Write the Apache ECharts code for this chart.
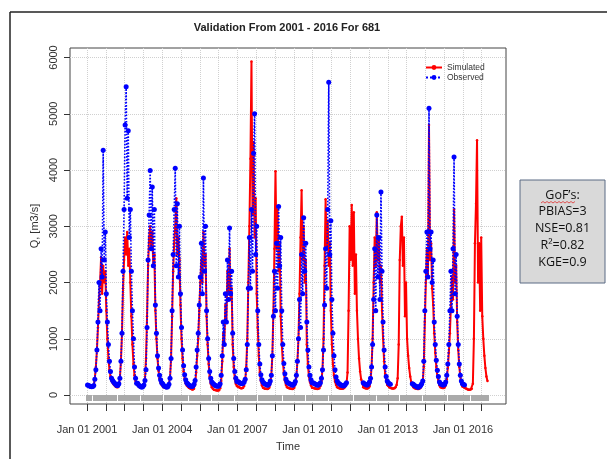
<!DOCTYPE html>
<html><head><meta charset="utf-8">
<script src="https://cdn.jsdelivr.net/npm/echarts@6/dist/echarts.min.js"></script>
<style>html,body{margin:0;padding:0;background:#fff}#c{width:607px;height:459px}</style>
</head><body><div id="c"></div>
<script>
// ---- data, 24 samples per year, 2001..2016 ----
const startYear = 2001;
const samplesPerYear = 24;
const observed = [
 180,170,160,150,145,150,170,280,450,800,1300,2000,1500,2600,2100,4350,2400,2900,1800,1300,900,600,420,300,
 260,230,210,190,170,170,200,300,600,1100,2200,3300,4800,5480,3500,4700,2800,3300,2200,1500,1000,500,300,210,
 210,180,160,150,140,150,180,260,450,1200,2400,3200,3990,2600,3700,2300,3300,1600,1100,700,480,350,270,220,
 200,170,155,145,140,150,190,300,650,1500,2500,3300,4030,2300,3400,2100,3000,1800,1200,800,520,360,270,220,
 200,180,165,155,150,160,190,260,500,800,1100,1600,2100,2700,1800,3860,2200,3000,1500,1000,650,420,300,230,
 210,190,175,165,155,155,165,200,350,700,1300,900,1800,1300,2400,1700,2970,1800,2200,1100,650,420,300,240,
 240,225,215,205,200,210,230,280,450,900,1900,2800,1900,3300,2200,4300,5000,2500,3000,1500,900,550,360,270,
 230,210,195,185,175,180,200,250,350,700,1400,2200,1500,2700,1900,3350,2300,2800,1500,900,560,380,280,230,
 220,205,195,185,175,180,200,240,350,600,1000,1700,1200,2500,1800,3150,2200,2700,1300,800,500,350,270,220,
 220,205,195,185,175,180,190,220,300,450,800,1600,2600,1900,3300,5560,2500,3100,1700,1100,700,450,320,250,
 220,200,185,175,165,160,170,190,220,null,null,null,null,null,null,null,null,null,null,null,null,null,null,null,
 220,200,190,180,180,200,230,300,500,900,1700,2600,1500,3200,2100,2800,1700,3610,2200,1300,800,500,330,250,
 220,200,190,null,null,null,null,null,null,null,null,null,null,null,null,null,null,null,null,null,null,null,null,200,
 190,170,160,150,140,140,150,170,200,250,600,1500,2200,2900,2100,5100,2600,2900,2000,2400,1300,900,620,440,
 330,230,200,190,180,180,190,230,350,550,900,1500,2200,1500,2600,4230,1800,2500,1400,900,550,350,250,200,
 190,180,null,null,null,null,null,null,null,null,null,null,null,null,null,null,null,null,null,null,null,null,null,null
];
const simulated = [
 170,160,150,140,135,140,160,300,500,800,1200,1700,2000,2450,1800,2300,2000,2200,1500,1000,650,450,330,250,
 220,190,170,150,140,140,180,300,600,1100,1900,2400,2800,2500,2900,2300,2600,2000,1400,900,550,350,250,190,
 180,150,140,130,130,140,170,280,650,1400,2300,2800,3000,2600,2900,2300,2500,1500,1000,650,430,300,220,180,
 160,140,130,125,125,135,170,300,650,1400,2200,2700,3000,3500,2500,2800,2400,1600,1000,650,420,290,210,170,
 150,130,120,110,100,100,110,180,400,700,1000,1500,2000,2400,2000,2900,2300,2500,1400,900,550,330,200,140,
 110,95,90,85,80,80,85,120,250,600,1100,900,1600,1300,2200,1800,2600,1700,1900,900,500,300,200,160,
 150,140,130,120,120,130,160,250,500,1000,2000,3000,4200,5930,3200,4500,2800,3500,1800,1200,700,400,250,170,
 130,120,110,110,105,110,130,200,350,700,1500,2600,3980,2600,3300,2200,2700,1400,900,600,400,260,180,140,
 130,120,115,110,105,110,130,190,320,600,1000,1800,2800,3640,2400,3000,2000,2400,900,550,330,230,170,130,
 130,120,115,110,105,110,120,160,250,450,1000,2300,3480,2600,3100,2300,2700,1500,900,550,350,240,180,140,
 130,120,115,110,110,115,130,160,200,400,1500,3000,2400,3380,2300,3250,1800,2500,1500,1000,650,420,280,220,
 140,130,120,115,115,125,150,250,500,1000,2000,2800,2300,3250,2400,2800,2000,2300,1500,1000,600,380,250,180,
 160,140,130,120,115,115,120,140,180,300,900,2400,3000,3170,2300,2800,1400,2000,1000,700,480,330,230,170,
 140,125,115,110,105,105,115,130,170,230,500,1300,2000,2600,2100,4800,2400,2700,1900,1600,1100,750,500,330,
 250,170,140,130,125,125,135,170,280,480,750,1100,1600,2100,1700,3300,2000,2300,1300,800,500,320,200,150,
 150,130,120,110,100,95,95,100,110,200,1000,2700,3400,4530,2000,2700,1500,2800,1400,1000,700,480,330,250
];
const yTicks = [0, 1000, 2000, 3000, 4000, 5000, 6000];
const xLabelYears = [2001, 2004, 2007, 2010, 2013, 2016];
const seriesNames = ['Simulated', 'Observed'];
const gofLines = ['GoF\u2019s:', 'PBIAS=3', 'NSE=0.81', 'R\u00b2=0.82', 'KGE=0.9'];
const titleText = 'Validation From 2001 - 2016 For 681';

// ---- derived ----
const xMajorTicks = [];
for (let k = 0; k <= 21; k++) xMajorTicks.push(startYear + k * 0.75);
const xMonthTicks = [];
for (let m = 0; m <= 192; m++) xMonthTicks.push(startYear + m / 12);
function toPairs(arr) {
  return arr.map((v, i) => [startYear + Math.floor(i / samplesPerYear) + ((i % samplesPerYear) + 0.5) / samplesPerYear, v]);
}

const FONT = 'Liberation Sans, Arial, sans-serif';
const xMin = 2000.3217, xMax = 2017.7182;
const chart = echarts.init(document.getElementById('c'), null, {renderer: 'canvas'});
chart.setOption({
  animation: false,
  backgroundColor: '#fff',
  grid: {left: 70, right: 101, top: 48, bottom: 55, show: true, borderColor: '#444', borderWidth: 1, backgroundColor: '#fff'},
  legend: {
    orient: 'vertical', left: 425, top: 63, itemWidth: 16, itemHeight: 6, itemGap: 1, padding: 0,
    data: seriesNames,
    textStyle: {fontSize: 8.5, color: '#333', fontFamily: FONT, lineHeight: 8}
  },
  xAxis: [
    {
      type: 'value', min: xMin, max: xMax, position: 'bottom',
      axisLine: {show: false}, axisLabel: {show: false}, splitLine: {show: false},
      axisTick: {show: true, customValues: xMonthTicks, length: 6, lineStyle: {color: '#aaaaaa', width: 2}}
    },
    {
      type: 'value', min: xMin, max: xMax, position: 'bottom',
      axisLine: {show: false},
      axisTick: {show: true, customValues: xMajorTicks, length: 7, lineStyle: {color: '#333', width: 1}},
      axisLabel: {customValues: xLabelYears, formatter: v => 'Jan 01 ' + Math.round(v), fontSize: 11, color: '#333', margin: 20, fontFamily: FONT},
      splitLine: {show: true, lineStyle: {color: '#d0d0d0', type: 'dotted', width: 1}},
      name: 'Time', nameLocation: 'middle', nameGap: 37,
      nameTextStyle: {fontSize: 11, color: '#333', fontFamily: FONT}
    }
  ],
  yAxis: {
    type: 'value', min: -160, max: 6168.9,
    axisLine: {show: false},
    axisTick: {show: true, customValues: yTicks, length: 6, lineStyle: {color: '#333'}},
    axisLabel: {customValues: yTicks, formatter: v => String(Math.round(v)), rotate: 90, fontSize: 11, color: '#333', margin: 11, fontFamily: FONT},
    splitLine: {show: true, lineStyle: {color: '#d0d0d0', type: 'dotted', width: 1}},
    name: 'Q, [m3/s]', nameLocation: 'middle', nameGap: 27,
    nameTextStyle: {fontSize: 11, color: '#333', fontFamily: FONT}
  },
  series: [
    {
      name: seriesNames[0], type: 'line', xAxisIndex: 1, data: toPairs(simulated),
      symbol: 'circle', symbolSize: 2.5, showSymbol: true,
      lineStyle: {color: '#ff0000', width: 2}, itemStyle: {color: '#ff0000'}, z: 2
    },
    {
      name: seriesNames[1], type: 'line', xAxisIndex: 1, data: toPairs(observed),
      symbol: 'circle', symbolSize: 5, showSymbol: true, connectNulls: false,
      lineStyle: {color: '#0000ff', width: 1.6, type: 'dotted'}, itemStyle: {color: '#0000ff'}, z: 3
    }
  ],
  graphic: [
    {type: 'line', shape: {x1: 10, y1: 12, x2: 607, y2: 12}, style: {stroke: '#222', lineWidth: 1.5}, silent: true},
    {type: 'line', shape: {x1: 10, y1: 12, x2: 10, y2: 459}, style: {stroke: '#222', lineWidth: 1.5}, silent: true},
    {type: 'text', x: 287, y: 28, style: {text: titleText, textAlign: 'center', textVerticalAlign: 'middle', font: 'bold 11px ' + FONT, fill: '#222'}, silent: true},
    {type: 'rect', shape: {x: 520, y: 180, width: 85, height: 103}, style: {fill: '#d9d9d9', stroke: '#5b6b84', lineWidth: 1}, silent: true},
    ...gofLines.map((t, i) => ({
      type: 'text', x: 562.5, y: 195 + i * 16.8,
      style: {text: t, textAlign: 'center', textVerticalAlign: 'middle', font: '12.5px "Open Sans", sans-serif', fill: '#111'}, silent: true
    })),
    {type: 'polyline', shape: {points: [[541,203],[543,201.5],[545,203],[547,201.5],[549,203],[551,201.5],[553,203],[555,201.5],[557,203],[559,201.5],[561,203],[563,201.5],[565,203],[567,201.5],[569,203],[571,201.5],[573,203],[575,201.5]]}, style: {stroke: '#e03030', lineWidth: 0.8, fill: null}, silent: true}
  ]
});
</script>
</body></html>
